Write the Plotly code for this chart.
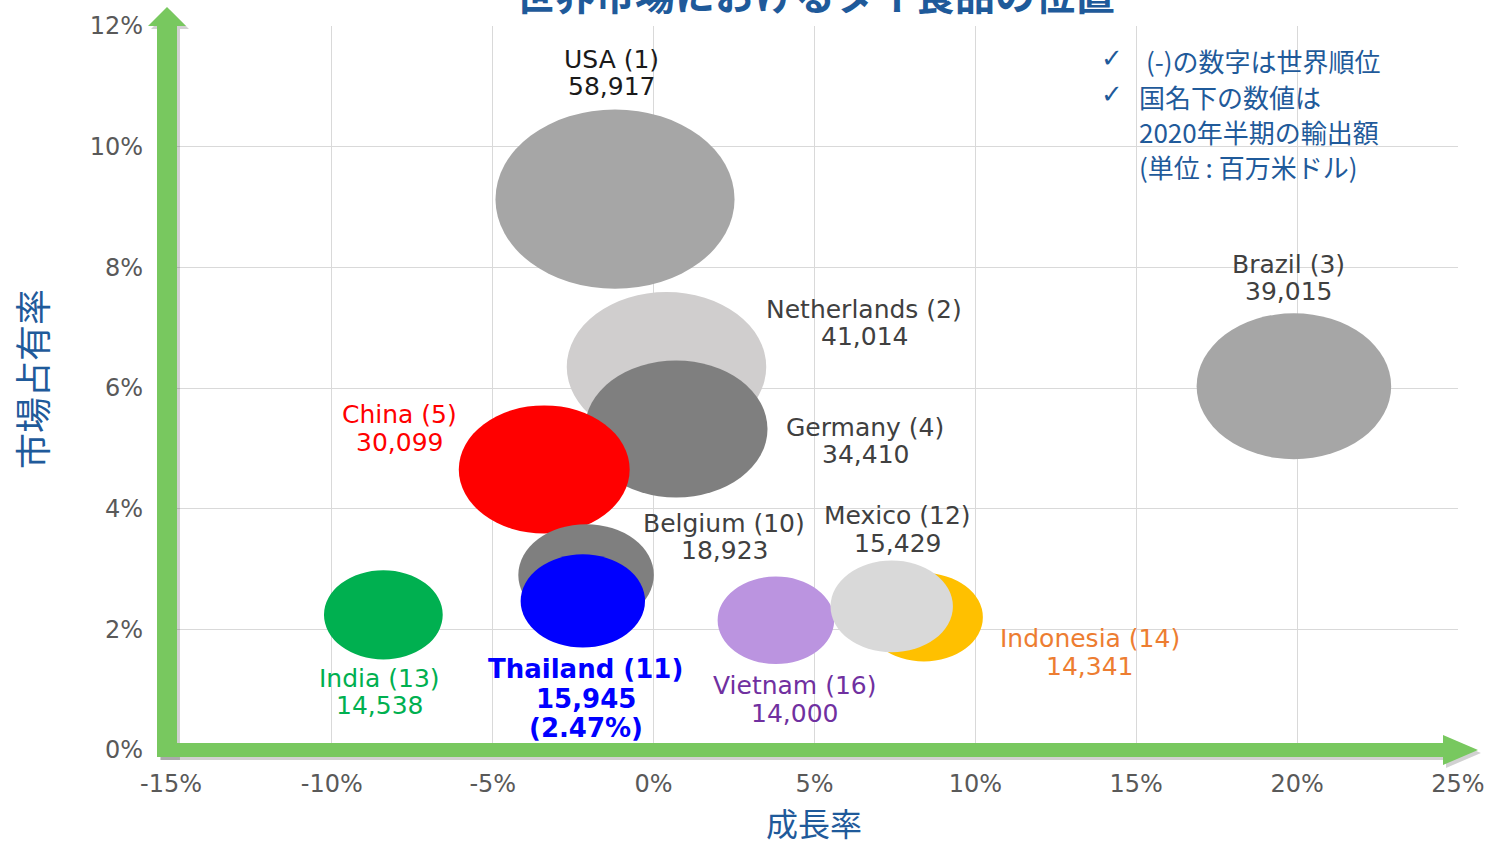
import plotly.graph_objects as go

# ---------------- data ----------------
countries = ["USA", "Netherlands", "Germany", "China", "Brazil", "Belgium",
             "Thailand", "India", "Vietnam", "Indonesia", "Mexico"]
ranks = [1, 2, 4, 5, 3, 10, 11, 13, 16, 14, 12]
exports = [58917, 41014, 34410, 30099, 39015, 18923, 15945, 14538, 14000, 14341, 15429]
growth = [-1.2, 0.4, 0.7, -3.4, 19.9, -2.1, -2.2, -8.4, 3.8, 8.4, 7.4]   # 成長率 (%)
share = [9.13, 6.35, 5.32, 4.65, 6.03, 2.9, 2.47, 2.24, 2.15, 2.2, 2.38]  # 市場占有率 (%)

x_ticks = [-15, -10, -5, 0, 5, 10, 15, 20, 25]
y_ticks = [0, 2, 4, 6, 8, 10, 12]

title_text = "世界市場におけるタイ食品の位置"
x_title = "成長率"
y_title = "市場占有率"
note_lines = ["(-)の数字は世界順位", "国名下の数値は", "2020年半期の輸出額", "(単位 : 百万米ドル)"]

# ---------------- styles ----------------
W, H = 1497, 846
ML, MR, MT, MB = 171, 34, 23, 96
PW, PH = W - ML - MR, H - MT - MB

bubble_colors = {
    "USA": "#a6a6a6", "Netherlands": "#d0cece", "Germany": "#7f7f7f", "China": "#ff0000",
    "Brazil": "#a6a6a6", "Belgium": "#7f7f7f", "Thailand": "#0000ff", "India": "#00b050",
    "Vietnam": "#bb94e0", "Indonesia": "#ffc000", "Mexico": "#d9d9d9",
}
label_colors = {
    "USA": "#1a1a1a", "Netherlands": "#404040", "Germany": "#404040", "China": "#ff0000",
    "Brazil": "#404040", "Belgium": "#404040", "Thailand": "#0000ff", "India": "#00b050",
    "Vietnam": "#7030a0", "Indonesia": "#ed7d31", "Mexico": "#404040",
}
# label block offset from bubble centre, in pixels (x right, y up)
label_offsets = {
    "USA": (-4, 126), "Netherlands": (198, 44), "Germany": (189, -12), "China": (-145, 41),
    "Brazil": (-5, 108), "Belgium": (138, 38), "Thailand": (3, -98), "India": (-4, -77),
    "Vietnam": (19, -79), "Indonesia": (166, -35), "Mexico": (6, 77),
}
BLUE = "#1f5a9a"
GREEN = "#78c85f"
LATIN = "DejaVu Sans, Verdana, sans-serif"
CJK = "Noto Sans CJK JP, sans-serif"

# bubble size: area proportional to exports; largest bubble 240 x 180 px
max_w_px, max_h_px = 240, 180
xspan = x_ticks[-1] - x_ticks[0]
yspan = y_ticks[-1] - y_ticks[0]
vmax = max(exports)

fig = go.Figure()

shapes = []
for c, g, s, v in zip(countries, growth, share, exports):
    k = (v / vmax) ** 0.5
    rx = k * max_w_px / 2 / PW * xspan
    ry = k * max_h_px / 2 / PH * yspan
    shapes.append(dict(type="circle", xref="x", yref="y", x0=g - rx, x1=g + rx,
                       y0=s - ry, y1=s + ry, fillcolor=bubble_colors[c],
                       line=dict(width=0), layer="above"))

# green axis arrows (pixel paths anchored at the plot origin)
x_arrow = "M -13,-7 L 1272,-7 L 1272,-15 L 1307,0 L 1272,15 L 1272,7 L -13,7 Z"
y_arrow = "M -14,-7 L -14,724 L -23,724 L -4,743 L 15,724 L 6,724 L 6,-7 Z"
for path, col, dx, dy in [(x_arrow, "rgba(0,0,0,0.18)", 3, -3), (y_arrow, "rgba(0,0,0,0.18)", 3, -3),
                          (x_arrow, GREEN, 0, 0), (y_arrow, GREEN, 0, 0)]:
    shapes.append(dict(type="path", xref="paper", yref="paper", xsizemode="pixel",
                       ysizemode="pixel", xanchor=dx / PW, yanchor=dy / PH, path=path,
                       fillcolor=col, line=dict(width=0), layer="above"))

fig.add_trace(go.Scatter(
    x=growth, y=share, mode="markers",
    marker=dict(size=10, opacity=0),
    text=[f"{c} ({r})<br>{v:,}" for c, r, v in zip(countries, ranks, exports)],
    hoverinfo="text", showlegend=False))

annotations = []
for c, r, g, s, v in zip(countries, ranks, growth, share, exports):
    lines = [f"{c} ({r})", f"{v:,}"]
    bold = c == "Thailand"
    if bold:
        lines.append(f"({s:.2f}%)")
    spacing = 29.5 if bold else 27.5
    dx, dy = label_offsets[c]
    n = len(lines)
    for i, t in enumerate(lines):
        txt = f"<b>{t}</b>" if bold else t
        annotations.append(dict(
            x=g, y=s, xref="x", yref="y", text=txt, showarrow=False,
            xanchor="center", yanchor="middle", xshift=dx,
            yshift=dy + (n - 1) / 2 * spacing - i * spacing,
            font=dict(family=LATIN, size=26 if bold else 25, color=label_colors[c])))

def px_to_paper(px, py):
    return (px - ML) / PW, (H - MB - py) / PH

# title (partly cut off at top, as in the reference)
tx, ty = px_to_paper(817, -10)
annotations.append(dict(x=tx, y=ty, xref="paper", yref="paper", text=f"<b>{title_text}</b>",
                        showarrow=False, xanchor="center", yanchor="middle",
                        font=dict(family=CJK, size=40, color=BLUE)))
# axis titles
ax, ay = px_to_paper(816, 822)
annotations.append(dict(x=ax, y=ay, xref="paper", yref="paper", text=x_title, showarrow=False,
                        xanchor="center", yanchor="middle", font=dict(family=CJK, size=32, color=BLUE)))
ax, ay = px_to_paper(30, 378)
annotations.append(dict(x=ax, y=ay, xref="paper", yref="paper", text=y_title, showarrow=False,
                        textangle=-90, xanchor="center", yanchor="middle",
                        font=dict(family=CJK, size=36, color=BLUE)))
# notes
note_y = [58, 94, 129, 164]
for i, (t, py) in enumerate(zip(note_lines, note_y)):
    lx = 1148 if i == 0 else 1141
    ax, ay = px_to_paper(lx, py)
    annotations.append(dict(x=ax, y=ay, xref="paper", yref="paper", text=t, showarrow=False,
                            xanchor="left", yanchor="middle", font=dict(family=CJK, size=26, color=BLUE)))
    if i < 2:
        ax, ay = px_to_paper(1116, py - 3)
        annotations.append(dict(x=ax, y=ay, xref="paper", yref="paper", text="<b>✓</b>", showarrow=False,
                                xanchor="center", yanchor="middle",
                                font=dict(family=LATIN, size=26, color=BLUE)))

fig.update_layout(
    width=W, height=H, margin=dict(l=ML, r=MR, t=MT, b=MB, pad=0),
    paper_bgcolor="white", plot_bgcolor="white",
    shapes=shapes, annotations=annotations, showlegend=False,
    xaxis=dict(range=[x_ticks[0], x_ticks[-1]], tickvals=x_ticks,
               ticktext=[f"{t}%" for t in x_ticks], showgrid=True, gridcolor="#d9d9d9",
               gridwidth=1, zeroline=False, showline=False, ticks="",
               ticklabelstandoff=17,
               tickfont=dict(family=LATIN, size=24, color="#595959"), fixedrange=True),
    yaxis=dict(range=[y_ticks[0], y_ticks[-1]], tickvals=y_ticks,
               ticktext=[f"{t}%" for t in y_ticks], showgrid=True, gridcolor="#d9d9d9",
               gridwidth=1, zeroline=False, showline=False, ticks="",
               ticklabelstandoff=27,
               tickfont=dict(family=LATIN, size=24, color="#595959"), fixedrange=True),
)

fig.write_html("out.html", config={"displayModeBar": False},
               post_script="document.body.style.margin='0';document.body.style.overflow='hidden';")
